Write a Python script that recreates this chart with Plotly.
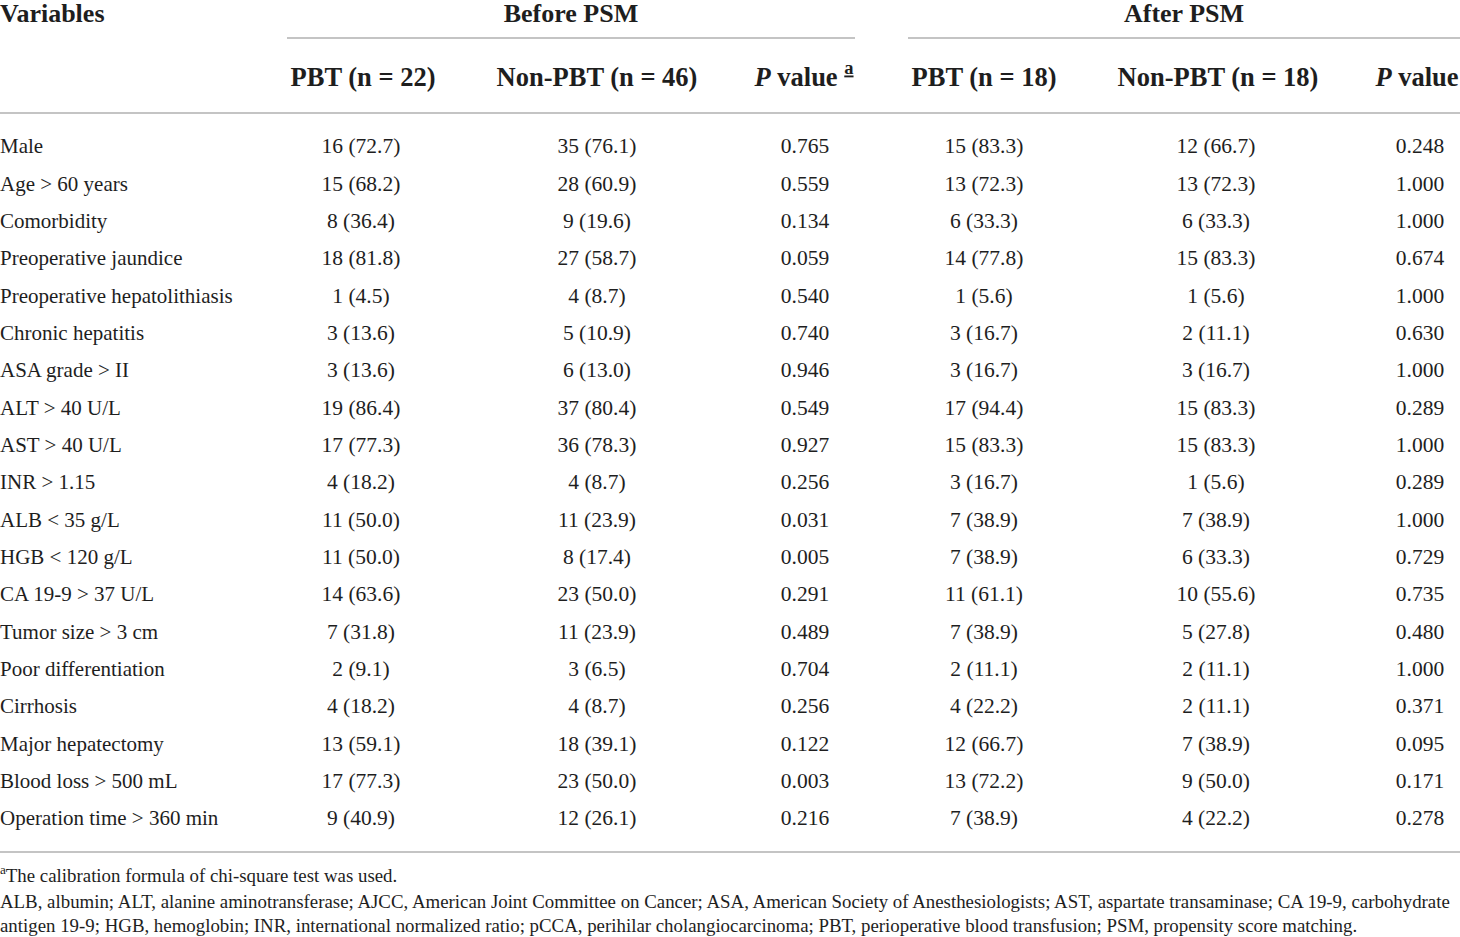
import plotly.graph_objects as go

# ---- table data ----
variables = ["Male", "Age > 60 years", "Comorbidity", "Preoperative jaundice",
             "Preoperative hepatolithiasis", "Chronic hepatitis", "ASA grade > II",
             "ALT > 40 U/L", "AST > 40 U/L", "INR > 1.15", "ALB < 35 g/L",
             "HGB < 120 g/L", "CA 19-9 > 37 U/L", "Tumor size > 3 cm",
             "Poor differentiation", "Cirrhosis", "Major hepatectomy",
             "Blood loss > 500 mL", "Operation time > 360 min"]

pbt_before = ["16 (72.7)", "15 (68.2)", "8 (36.4)", "18 (81.8)", "1 (4.5)", "3 (13.6)",
              "3 (13.6)", "19 (86.4)", "17 (77.3)", "4 (18.2)", "11 (50.0)", "11 (50.0)",
              "14 (63.6)", "7 (31.8)", "2 (9.1)", "4 (18.2)", "13 (59.1)", "17 (77.3)",
              "9 (40.9)"]
nonpbt_before = ["35 (76.1)", "28 (60.9)", "9 (19.6)", "27 (58.7)", "4 (8.7)", "5 (10.9)",
                 "6 (13.0)", "37 (80.4)", "36 (78.3)", "4 (8.7)", "11 (23.9)", "8 (17.4)",
                 "23 (50.0)", "11 (23.9)", "3 (6.5)", "4 (8.7)", "18 (39.1)", "23 (50.0)",
                 "12 (26.1)"]
p_before = ["0.765", "0.559", "0.134", "0.059", "0.540", "0.740", "0.946", "0.549",
            "0.927", "0.256", "0.031", "0.005", "0.291", "0.489", "0.704", "0.256",
            "0.122", "0.003", "0.216"]
pbt_after = ["15 (83.3)", "13 (72.3)", "6 (33.3)", "14 (77.8)", "1 (5.6)", "3 (16.7)",
             "3 (16.7)", "17 (94.4)", "15 (83.3)", "3 (16.7)", "7 (38.9)", "7 (38.9)",
             "11 (61.1)", "7 (38.9)", "2 (11.1)", "4 (22.2)", "12 (66.7)", "13 (72.2)",
             "7 (38.9)"]
nonpbt_after = ["12 (66.7)", "13 (72.3)", "6 (33.3)", "15 (83.3)", "1 (5.6)", "2 (11.1)",
                "3 (16.7)", "15 (83.3)", "15 (83.3)", "1 (5.6)", "7 (38.9)", "6 (33.3)",
                "10 (55.6)", "5 (27.8)", "2 (11.1)", "2 (11.1)", "7 (38.9)", "9 (50.0)",
                "4 (22.2)"]
p_after = ["0.248", "1.000", "1.000", "0.674", "1.000", "0.630", "1.000", "0.289",
           "1.000", "0.289", "1.000", "0.729", "0.735", "0.480", "1.000", "0.371",
           "0.095", "0.171", "0.278"]

col_headers = ["PBT (n = 22)", "Non-PBT (n = 46)", "<i>P</i> value <sup><u>a</u></sup>",
               "PBT (n = 18)", "Non-PBT (n = 18)", "<i>P</i> value"]
group_headers = ["Before PSM", "After PSM"]

footnotes = [
    "<sup>a</sup>The calibration formula of chi-square test was used.",
    "ALB, albumin; ALT, alanine aminotransferase; AJCC, American Joint Committee on Cancer; "
    "ASA, American Society of Anesthesiologists; AST, aspartate transaminase; CA 19-9, carbohydrate",
    "antigen 19-9; HGB, hemoglobin; INR, international normalized ratio; pCCA, perihilar "
    "cholangiocarcinoma; PBT, perioperative blood transfusion; PSM, propensity score matching.",
]

# ---- layout geometry (pixels) ----
W, H = 1460, 937
row0, rowN = 148, 820
pitch = (rowN - row0) / (len(variables) - 1)


def py(p):
    # pixel row -> row-index units on the y axis
    return (p - row0) / pitch


col_x = [361, 597, 805, 984, 1216, 1420]
head_x = [363, 597, 804, 984, 1218, 1417]
group_x = [571, 1184]
ink = "#1e1e1e"
rule = "#c4c4c4"
serif = "Liberation Serif"
rows = list(range(len(variables)))

fig = go.Figure()

fig.add_trace(go.Scatter(
    x=[0] * len(variables), y=rows, text=variables, mode="text",
    textposition="middle right", textfont=dict(family=serif, size=21, color=ink),
    hoverinfo="skip", cliponaxis=False))

for cx, vals in zip(col_x, [pbt_before, nonpbt_before, p_before,
                            pbt_after, nonpbt_after, p_after]):
    fig.add_trace(go.Scatter(
        x=[cx] * len(vals), y=rows, text=vals, mode="text",
        textposition="middle center", textfont=dict(family=serif, size=21.5, color=ink),
        hoverinfo="skip", cliponaxis=False))

# column headers
fig.add_trace(go.Scatter(
    x=head_x, y=[py(79)] * len(col_headers),
    text=["<b>%s</b>" % h for h in col_headers], mode="text",
    textposition="middle center", textfont=dict(family=serif, size=26.5, color=ink),
    hoverinfo="skip", cliponaxis=False))

# group headers and "Variables"
fig.add_trace(go.Scatter(
    x=group_x, y=[py(15)] * 2, text=["<b>%s</b>" % g for g in group_headers],
    mode="text", textposition="middle center",
    textfont=dict(family=serif, size=26, color=ink), hoverinfo="skip", cliponaxis=False))
fig.add_trace(go.Scatter(
    x=[0], y=[py(15)], text=["<b>Variables</b>"], mode="text",
    textposition="middle right", textfont=dict(family=serif, size=26, color=ink),
    hoverinfo="skip", cliponaxis=False))

# footnotes
fig.add_trace(go.Scatter(
    x=[0] * len(footnotes), y=[py(877), py(903), py(927)], text=footnotes,
    mode="text", textposition="middle right",
    textfont=dict(family=serif, size=18.85, color=ink), hoverinfo="skip", cliponaxis=False))

# rules
for x0, x1, yp in [(287, 855, 38), (908, 1460, 38), (0, 1460, 113), (0, 1460, 852)]:
    fig.add_shape(type="line", x0=x0, x1=x1, y0=py(yp), y1=py(yp),
                  line=dict(color=rule, width=2))

fig.update_xaxes(range=[0, W], visible=False, fixedrange=True)
fig.update_yaxes(range=[py(H), py(0)], visible=False, fixedrange=True)
fig.update_layout(width=W, height=H, margin=dict(l=0, r=0, t=0, b=0),
                  plot_bgcolor="white", paper_bgcolor="white", showlegend=False)

# drop the browser's default body margin so the figure sits at the page corner
fig.write_html("out.html", config={"displayModeBar": False},
               post_script="document.body.style.margin='0';"
                           "document.body.style.overflow='hidden';")
